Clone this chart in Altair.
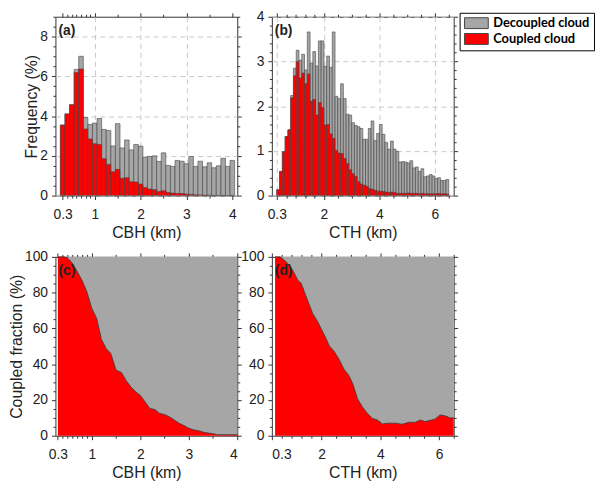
import altair as alt
import pandas as pd

# CBH histogram, 0.1 km bins (centres), frequency in %
cbh_bins = [round(0.3 + 0.1 * i, 2) for i in range(38)]
cbh_all = [3.55, 4.11, 4.57, 6.35, 7.01, 3.93, 3.58, 3.65, 3.88, 3.33,
           3.28, 2.5, 3.62, 2.4, 2.8, 2.3, 2.57, 2.49, 1.93, 1.97,
           2.0, 1.72, 2.15, 1.52, 1.47, 1.77, 1.73, 1.6, 1.97, 1.47,
           1.73, 1.45, 1.65, 1.4, 1.5, 1.88, 1.47, 1.77]
cbh_coupled = [3.55, 4.11, 4.57, 6.19, 6.37, 3.35, 2.85, 2.61, 2.57, 1.86,
               1.57, 1.2, 1.32, 0.87, 0.9, 0.7, 0.68, 0.58, 0.41, 0.33,
               0.3, 0.21, 0.25, 0.16, 0.13, 0.11, 0.1, 0.08, 0.06, 0.04,
               0.035, 0.025, 0.02, 0.01, 0.01, 0.01, 0.01, 0.01]

# CTH histogram, 0.1 km bins (centres)
cth_bins = [round(0.35 + 0.1 * i, 2) for i in range(62)]
cth_all = [0.13, 0.54, 0.98, 1.32, 1.47, 2.24, 2.85, 3.25, 3.03, 3.16,
           2.81, 3.66, 2.96, 3.22, 2.9, 3.46, 3.46, 2.89, 3.12, 2.87,
           3.66, 2.22, 2.17, 2.5, 2.17, 1.82, 1.8, 1.63, 1.57, 1.54,
           1.5, 1.26, 1.26, 1.5, 1.67, 1.23, 1.39, 1.59, 1.37, 1.19,
           1.04, 1.22, 1.04, 0.99, 0.75, 0.76, 0.75, 0.73, 0.78, 0.62,
           0.64, 0.54, 0.6, 0.42, 0.44, 0.47, 0.44, 0.38, 0.4, 0.34,
           0.34, 0.36]
cth_coupled = [0.13, 0.54, 0.98, 1.32, 1.47, 2.19, 2.68, 3.0, 2.63, 2.74,
               2.5, 2.72, 2.11, 2.15, 1.8, 2.08, 1.97, 1.58, 1.59, 1.38,
               1.28, 1.01, 0.95, 0.94, 0.83, 0.72, 0.58, 0.49, 0.43, 0.31,
               0.26, 0.23, 0.21, 0.16, 0.14, 0.12, 0.1, 0.1, 0.09, 0.08,
               0.07, 0.08, 0.07, 0.05, 0.05, 0.05, 0.05, 0.06, 0.05, 0.05,
               0.05, 0.04, 0.05, 0.04, 0.04, 0.04, 0.04, 0.04, 0.045, 0.04,
               0.04, 0.035]

# coupled fraction (%) curves
cbh_frac_x = [0.3, 0.42, 0.49, 0.59, 0.67, 0.8, 0.9, 1.0, 1.1, 1.2, 1.3,
              1.39, 1.5, 1.61, 1.71, 1.81, 1.91, 2.0, 2.1, 2.2, 2.3,
              2.4, 2.5, 2.6, 2.7, 2.8, 2.9, 3.0, 3.1, 3.2, 3.3,
              3.4, 3.5, 3.6, 3.7, 4.0]
cbh_frac = [100, 100, 99.6, 96.9, 93.2, 86.8, 80.4, 71.2, 65.7, 53.8, 48.6,
            46.1, 36.7, 35.4, 30.8, 27.2, 24.4, 22.6, 18.9, 15.2, 14.7,
            12.5, 11.9, 10.6, 8.8, 7, 5.7, 4.2, 3.3, 2.8, 2,
            1.5, 1.1, 0.6, 0.6, 0.6]
cth_frac_x = [0.41, 0.58, 0.69, 0.86, 1.02, 1.19, 1.3, 1.41, 1.56, 1.69,
              1.86, 1.97, 2.14, 2.25, 2.42, 2.59, 2.76, 2.93, 3.06, 3.22,
              3.39, 3.56, 3.73, 3.9, 4.07, 4.24, 4.52, 4.74, 4.97, 5.19,
              5.36, 5.53, 5.75, 5.87, 6.03, 6.2, 6.37, 6.5]
cth_frac = [100, 100, 98.7, 96, 92.3, 86.8, 85.3, 80.4, 74, 68.4,
            63.9, 60.2, 54.7, 50.5, 47.3, 42.8, 37.2, 33.6, 29, 20.7,
            16, 12.5, 9.7, 8.8, 6.6, 7, 7, 6.4, 7.5, 7.5,
            8.8, 7.9, 8.8, 9.4, 11.6, 11.2, 10, 10]

types = ["Decoupled cloud", "Coupled cloud"]
GRAY = "#a6a6a6"
RED = "#ff0000"
FONT = "Liberation Sans"

# tick values
cbh_major = [0.3, 1, 2, 3, 4]
cbh_minor = [0.4, 0.5, 0.6, 0.7, 0.8, 0.9, 1.5, 2.5, 3.5]
cth_major = [0.3, 2, 4, 6]
cth_minor = [0.64, 0.98, 1.32, 1.66, 2.5, 3, 3.5, 4.5, 5, 5.5, 6.5]
fa_major = [0, 2, 4, 6, 8]
fa_minor = [v / 2 for v in range(19) if v % 4]
fb_major = [0, 1, 2, 3, 4]
fb_minor = [round(v / 5, 1) for v in range(21) if v % 5]
pc_major = [0, 20, 40, 60, 80, 100]
pc_minor = [v for v in range(0, 101, 5) if v % 20]


def make_axis(orient, vals, major, title=None, grid=False, grid_test=None):
    kw = dict(orient=orient, values=vals, domain=False, format="~r",
              tickSize=4 if major else 2.5,
              labels=major and orient in ("bottom", "left"),
              grid=grid, title=title)
    if grid:
        kw.update(gridDash=[5, 4], gridColor="#c8c8c8", gridWidth=1)
        if grid_test:
            kw["gridOpacity"] = {"condition": {"test": grid_test, "value": 0}, "value": 1}
    return alt.Axis(**kw)


def enc_xy(p, slot, xf, yf):
    xsc = alt.Scale(domain=p["xdom"], nice=False, zero=False)
    ysc = alt.Scale(domain=p["ydom"], nice=False)
    if slot == 0:
        xa = make_axis("bottom", p["xmaj"], True, p["xtitle"], p["grid"], p.get("gtest"))
        ya = make_axis("left", p["ymaj"], True, p["ytitle"], p["grid"])
    elif slot == 1:
        xa = make_axis("top", p["xmaj"], True)
        ya = make_axis("right", p["ymaj"], True)
    elif slot == 2:
        xa = make_axis("bottom", p["xmin"], False)
        ya = make_axis("left", p["ymin"], False)
    else:
        xa = make_axis("top", p["xmin"], False)
        ya = make_axis("right", p["ymin"], False)
    return alt.X(xf, scale=xsc, axis=xa), alt.Y(yf, scale=ysc, axis=ya)


def label_layer(txt):
    return alt.Chart(alt.Data(values=[{}])).mark_text(
        text=txt, align="left", baseline="middle", font=FONT,
        fontSize=14, fontWeight="bold", color="#222"
    ).encode(x=alt.value(3), y=alt.value(14))


def hist_panel(p, bins, total, coupled, label, legend):
    df = pd.DataFrame({"x": bins * 2, "freq": total + coupled,
                       "type": [types[0]] * len(bins) + [types[1]] * len(bins)})
    base = alt.Chart(df).transform_calculate(
        lo="datum.x - 0.05", hi="datum.x + 0.05")
    if legend:
        leg = alt.Legend(orient="none", legendX=190, legendY=-4, title=None,
                         symbolType="M-1,-1H3.364V1H-1Z", symbolSize=121,
                         symbolStrokeColor="#444", symbolStrokeWidth=1,
                         symbolOpacity=1, labelOffset=17, labelFont="Lato",
                         labelFontWeight="bold", labelFontSize=13,
                         labelColor="black", strokeColor="black",
                         fillColor="white", padding=4, rowPadding=1)
    else:
        leg = None
    color = alt.Color("type:N", scale=alt.Scale(domain=types, range=[GRAY, RED]),
                      legend=leg)
    layers = []
    for slot, kind in enumerate([types[0], types[1], None, None]):
        x, y = enc_xy(p, slot, "lo:Q", "freq:Q")
        if kind:
            ch = base.transform_filter(alt.datum.type == kind).mark_bar(
                stroke="#444", strokeWidth=0.6, clip=True, orient="vertical"
            ).encode(x=x, x2="hi:Q", y=y, y2=alt.Y2Datum(0), color=color)
        else:
            ch = base.mark_point(opacity=0).encode(x=x, y=y)
        layers.append(ch)
    layers.append(label_layer(label))
    return alt.layer(*layers).resolve_axis(x="independent", y="independent").properties(
        width=184, height=181)


def frac_panel(p, xs, fr, label):
    df = pd.DataFrame({"x": xs, "frac": fr})
    base = alt.Chart(df).transform_calculate(top="100")
    layers = []
    x, y = enc_xy(p, 0, "x:Q", "top:Q")
    layers.append(base.mark_area(color=GRAY).encode(x=x, y=y, y2="frac:Q"))
    x, y = enc_xy(p, 1, "x:Q", "frac:Q")
    layers.append(base.mark_area(color=RED).encode(x=x, y=y))
    x, y = enc_xy(p, 2, "x:Q", "frac:Q")
    layers.append(base.mark_line(color="#333", strokeWidth=0.8).encode(x=x, y=y))
    x, y = enc_xy(p, 3, "x:Q", "frac:Q")
    layers.append(base.mark_point(opacity=0).encode(x=x, y=y))
    layers.append(label_layer(label))
    return alt.layer(*layers).resolve_axis(x="independent", y="independent").properties(
        width=184, height=181)


pa = dict(xdom=[0.25, 4], ydom=[0, 9], xmaj=cbh_major, xmin=cbh_minor,
          ymaj=fa_major, ymin=fa_minor, xtitle="CBH (km)", ytitle="Frequency (%)",
          grid=True, gtest="datum.value < 0.5 || datum.value > 3.9")
pb = dict(xdom=[0.3, 6.5], ydom=[0, 4], xmaj=cth_major, xmin=cth_minor,
          ymaj=fb_major, ymin=fb_minor, xtitle="CTH (km)", ytitle=None, grid=True)
pc = dict(xdom=[0.25, 4], ydom=[0, 100], xmaj=cbh_major, xmin=cbh_minor,
          ymaj=pc_major, ymin=pc_minor, xtitle="CBH (km)",
          ytitle="Coupled fraction (%)", grid=False)
pd_ = dict(xdom=[0.3, 6.5], ydom=[0, 100], xmaj=cth_major, xmin=cth_minor,
           ymaj=pc_major, ymin=pc_minor, xtitle="CTH (km)", ytitle=None, grid=False)

chart = alt.concat(
    hist_panel(pa, cbh_bins, cbh_all, cbh_coupled, "(a)", False),
    hist_panel(pb, cth_bins, cth_all, cth_coupled, "(b)", True),
    frac_panel(pc, cbh_frac_x, cbh_frac, "(c)"),
    frac_panel(pd_, cth_frac_x, cth_frac, "(d)"),
    columns=2, spacing={"row": 62, "column": 35}, bounds="flush"
).resolve_scale(color="independent").properties(
    padding={"top": -2, "left": 0, "right": 0, "bottom": 0})

chart = chart.configure_view(stroke="#333", strokeWidth=1).configure_axis(
    labelFont=FONT, titleFont=FONT, labelFontSize=14, titleFontSize=16,
    labelColor="#222", titleColor="#222", tickColor="#333", tickWidth=1,
    titleFontWeight="normal"
).configure_axisX(labelPadding=8, titlePadding=3).configure_axisY(
    labelPadding=4, titlePadding=0)

chart.save("out.html", embed_options={"renderer": "svg", "actions": False})
